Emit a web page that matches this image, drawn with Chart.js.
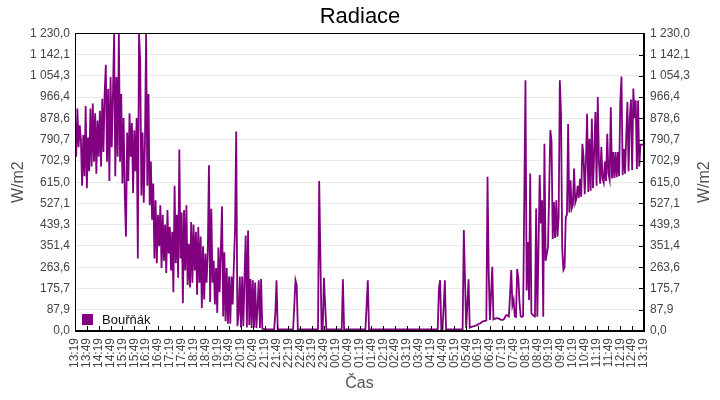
<!DOCTYPE html>
<html><head><meta charset="utf-8">
<script src="https://cdn.jsdelivr.net/npm/chart.js@4/dist/chart.umd.min.js"></script>
<style>html,body{margin:0;padding:0;background:#fff}canvas{display:block}</style>
</head><body>
<canvas id="c" width="720" height="400"></canvas>
<script>
const chartTitle = 'Radiace';
const seriesName = 'Bouřňák';
const xAxisTitle = 'Čas';
const yAxisTitle = 'W/m2';
const stepMinutes = 3;
const tickMinutes = 30;
const yMax = 1230;

const radiation = [
870,720,920,760,850,790,600,810,640,930,
590,800,660,920,680,940,700,900,650,870,
720,910,680,960,740,980,1100,700,1000,620,
1050,760,980,1230,640,1050,720,1230,700,980,
610,880,560,390,820,620,900,720,860,570,
830,660,880,300,1230,1120,560,820,530,780,
1230,600,980,520,700,460,610,300,540,280,
480,350,520,260,480,290,440,240,500,320,
430,250,410,160,600,280,480,220,750,300,
490,115,500,250,520,190,360,180,450,200,
440,250,410,150,430,200,390,95,350,130,
320,200,330,685,120,505,200,290,110,260,
75,345,160,330,515,60,325,40,260,30,
225,30,225,110,270,420,825,20,70,225,
15,225,20,220,395,15,415,25,215,12,
210,15,200,12,100,210,12,215,10,8,
8,7,7,7,7,7,7,7,7,73,
210,7,7,7,7,7,7,7,7,7,
7,7,7,7,7,105,210,190,7,7,
7,7,7,7,7,7,7,7,7,7,
7,7,7,7,7,7,620,313,7,7,
220,111,7,7,7,7,7,7,7,7,
7,7,7,7,7,7,214,7,7,7,
7,7,7,7,7,7,7,7,7,7,
7,7,7,7,7,7,105,210,7,7,
7,7,7,7,7,7,7,7,7,7,
7,7,7,7,7,7,7,7,7,7,
7,7,7,7,7,7,7,7,7,7,
7,7,7,7,7,7,7,7,7,7,
7,7,7,7,7,7,7,7,7,7,
7,7,7,7,7,7,7,176,210,7,
7,100,210,7,7,7,7,7,7,7,
7,7,7,7,7,7,7,7,417,214,
12,111,214,14,16,18,19,20,22,24,
28,30,32,36,40,41,42,43,637,244,
46,153,265,48,50,52,53,52,50,47,
46,46,50,60,66,64,60,149,252,107,
128,60,58,256,219,115,60,58,62,547,
1036,167,368,128,651,73,68,62,60,506,
59,340,645,444,540,59,774,290,320,347,
575,830,784,380,533,385,540,390,470,1036,
898,341,252,262,472,480,856,490,623,505,
520,671,530,547,600,550,629,555,774,720,
565,700,898,575,795,580,877,590,740,905,
600,967,700,609,760,629,612,700,620,815,
650,625,925,630,740,633,740,636,740,640,
946,1052,645,753,650,801,946,660,880,957,
665,1002,880,953,670,953,680,770,770,770,
770
];

const xTickLabels = ['13:19','13:49','14:19','14:49','15:19','15:49','16:19','16:49','17:19','17:49',
'18:19','18:49','19:19','19:49','20:19','20:49','21:19','21:49','22:19','22:49','23:19','23:49',
'00:19','00:49','01:19','01:49','02:19','02:49','03:19','03:49','04:19','04:49','05:19','05:49',
'06:19','06:49','07:19','07:49','08:19','08:49','09:19','09:49','10:19','10:49','11:19','11:49',
'12:19','12:49','13:19'];

const yTickLabels = ['0,0','87,9','175,7','263,6','351,4','439,3','527,1','615,0','702,9','790,7',
'878,6','966,4','1 054,3','1 142,1','1 230,0'];

const FONT = '"Liberation Sans", Arial, sans-serif';
const yTickValues = yTickLabels.map((_, i) => i * yMax / (yTickLabels.length - 1));
const xMax = (xTickLabels.length - 1) * tickMinutes;

const framePlugin = {
  id: 'frame',
  afterDraw(chart) {
    const ctx = chart.ctx, a = chart.chartArea;
    const L = Math.round(a.left), R = Math.round(a.right), T = Math.round(a.top), B = Math.round(a.bottom);
    ctx.save();
    ctx.strokeStyle = '#000';
    ctx.lineWidth = 1;
    ctx.strokeRect(L + 0.5, T + 0.5, R - L - 1, B - T - 1);
    // inward tick marks on the bottom and right axes
    ctx.beginPath();
    chart.scales.x.ticks.forEach(t => {
      const px = Math.round(chart.scales.x.getPixelForValue(t.value)) + 0.5;
      ctx.moveTo(px, B - 0.5); ctx.lineTo(px, B - 5);
    });
    chart.scales.y2.ticks.forEach(t => {
      const py = Math.round(chart.scales.y2.getPixelForValue(t.value)) + 0.5;
      ctx.moveTo(R - 0.5, py); ctx.lineTo(R - 5, py);
    });
    ctx.stroke();
    // legend inside the chart area, bottom-left
    const ds = chart.data.datasets[0];
    ctx.fillStyle = ds.borderColor;
    ctx.fillRect(L + 7, B - 17, 11, 11);
    ctx.fillStyle = '#111';
    ctx.font = '13px ' + FONT;
    ctx.textBaseline = 'middle';
    ctx.textAlign = 'left';
    ctx.fillText(ds.label, L + 27, B - 11);
    // right axis title, reading bottom to top
    ctx.fillStyle = '#555';
    ctx.font = '16px ' + FONT;
    ctx.translate(705, (a.top + a.bottom) / 2);
    ctx.rotate(-Math.PI / 2);
    ctx.textAlign = 'center';
    ctx.fillText(yAxisTitle, 0, 0);
    ctx.restore();
  }
};

new Chart(document.getElementById('c'), {
  type: 'line',
  data: {
    datasets: [{
      label: seriesName,
      data: radiation.map((v, i) => ({ x: i * stepMinutes, y: v })),
      borderColor: '#800080',
      backgroundColor: '#800080',
      borderWidth: 1.8,
      pointRadius: 0,
      fill: false,
      tension: 0,
      stepped: false,
      borderJoinStyle: 'miter',
      yAxisID: 'y'
    }]
  },
  options: {
    responsive: false,
    animation: false,
    devicePixelRatio: 1,
    layout: { padding: 0 },
    plugins: {
      legend: { display: false },
      tooltip: { enabled: false },
      title: {
        display: true, text: chartTitle, color: '#000',
        font: { family: FONT, size: 22, weight: 'normal', lineHeight: 1.2 },
        padding: { top: 4, bottom: 3 }
      }
    },
    scales: {
      x: {
        type: 'linear', min: 0, max: xMax,
        afterBuildTicks: s => { s.ticks = xTickLabels.map((_, i) => ({ value: i * tickMinutes })); },
        afterFit: s => { s.height = 69; },
        ticks: {
          autoSkip: false, minRotation: 90, maxRotation: 90, padding: 7,
          color: '#444', font: { family: FONT, size: 12 },
          callback: (v, i) => xTickLabels[i]
        },
        grid: { drawOnChartArea: false, drawTicks: false },
        border: { display: true, color: '#000' },
        title: { display: true, text: xAxisTitle, color: '#555',
                 font: { family: FONT, size: 16 }, padding: { top: 0, bottom: 7 } }
      },
      y: {
        position: 'left', min: 0, max: yMax,
        afterBuildTicks: s => { s.ticks = yTickValues.map(v => ({ value: v })); },
        afterFit: s => { s.width = 75; },
        ticks: { padding: 5, color: '#444', font: { family: FONT, size: 12 },
                 callback: (v, i) => yTickLabels[i] },
        grid: { color: '#ebebeb', drawTicks: false },
        border: { display: true, color: '#000' },
        title: { display: true, text: yAxisTitle, color: '#555',
                 font: { family: FONT, size: 16 }, padding: { top: 9, bottom: 0 } }
      },
      y2: {
        position: 'right', min: 0, max: yMax,
        afterBuildTicks: s => { s.ticks = yTickValues.map(v => ({ value: v })); },
        afterFit: s => { s.width = 76; },
        ticks: { padding: 6, color: '#444', font: { family: FONT, size: 12 },
                 callback: (v, i) => yTickLabels[i] },
        grid: { drawOnChartArea: false, drawTicks: false },
        border: { display: true, color: '#000' }
      }
    }
  },
  plugins: [framePlugin]
});
</script>
</body></html>
